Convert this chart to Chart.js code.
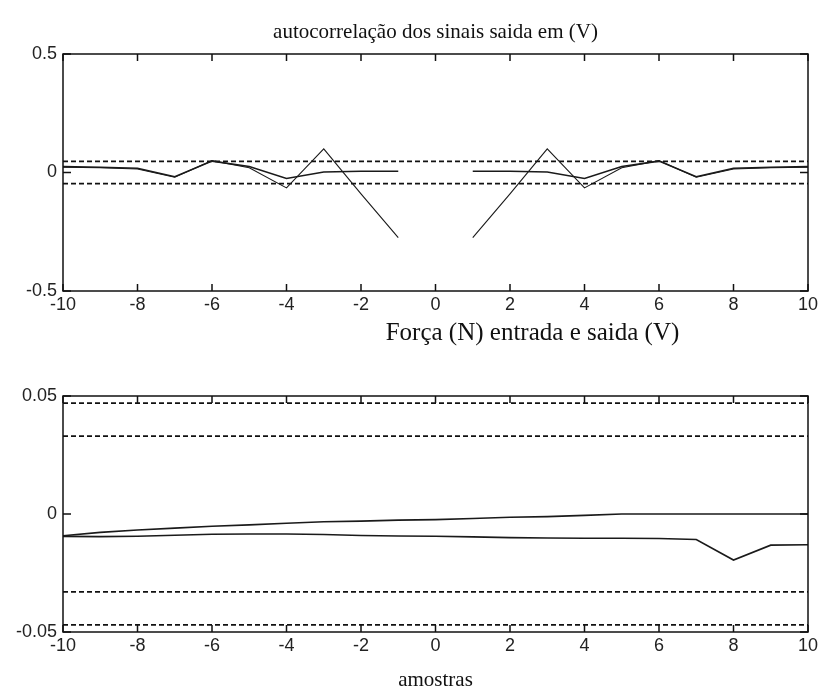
<!DOCTYPE html>
<html>
<head>
<meta charset="utf-8">
<script src="https://cdn.jsdelivr.net/npm/chart.js@4.4.0/dist/chart.umd.min.js"></script>
<style>
  body { margin: 0; background: #fff; }
  canvas { position: absolute; left: 0; }
  #top { top: 0; }
  #bottom { top: 315px; }
</style>
</head>
<body>
<canvas id="top" width="822" height="330"></canvas>
<canvas id="bottom" width="822" height="378"></canvas>
<script>
// lags (amostras)
const lags = [-10, -9, -8, -7, -6, -5, -4, -3, -2, -1, 0, 1, 2, 3, 4, 5, 6, 7, 8, 9, 10];

// autocorrelation of output signals, no value at lag 0
const autoSpike = [0.022, 0.02, 0.015, -0.02, 0.05, 0.02, -0.065, 0.10, -0.09, -0.275, null,
                   -0.275, -0.09, 0.10, -0.065, 0.02, 0.05, -0.02, 0.015, 0.02, 0.022];
const autoFlat = [0.025, 0.022, 0.018, -0.018, 0.048, 0.025, -0.025, 0.002, 0.005, 0.005, null,
                  0.005, 0.005, 0.002, -0.025, 0.025, 0.048, -0.018, 0.018, 0.022, 0.025];
const autoBounds = [0.047, -0.047];
const autoYTicks = [-0.5, 0, 0.5];

// cross correlation force (N) input / output (V)
const forceUpper = [-0.0092, -0.0078, -0.0068, -0.0060, -0.0052, -0.0046, -0.0039, -0.0033, -0.0030, -0.0026, -0.0024,
                    -0.0019, -0.0014, -0.0011, -0.0006, 0, 0, 0, 0, 0, 0];
const forceLower = [-0.0095, -0.0096, -0.0094, -0.0090, -0.0086, -0.0085, -0.0085, -0.0087, -0.0091, -0.0093, -0.0094,
                    -0.0097, -0.0100, -0.0102, -0.0103, -0.0103, -0.0104, -0.0108, -0.0195, -0.0132, -0.0130];
const forceBounds = [0.047, 0.033, -0.033, -0.047];
const forceYTicks = [-0.05, 0, 0.05];

const tickFont = { family: '"Liberation Sans", Arial, sans-serif', size: 18 };
const serif = '"Liberation Serif", "Times New Roman", serif';

const pts = vals => lags.map((x, i) => ({ x, y: vals[i] }));
const hline = v => ({ data: [{ x: -10, y: v }, { x: 10, y: v }], borderColor: '#111', borderWidth: 1.6, borderDash: [5, 3], pointRadius: 0 });

// box with inward ticks, like matlab axes
const frame = {
  id: 'frame',
  afterDatasetsDraw(chart) {
    const { ctx, chartArea: a, scales: { x, y } } = chart;
    ctx.save();
    ctx.strokeStyle = '#111';
    ctx.lineWidth = 1.5;
    ctx.strokeRect(a.left, a.top, a.right - a.left, a.bottom - a.top);
    ctx.beginPath();
    x.ticks.forEach(t => {
      const px = x.getPixelForValue(t.value);
      ctx.moveTo(px, a.bottom); ctx.lineTo(px, a.bottom - 7);
      ctx.moveTo(px, a.top); ctx.lineTo(px, a.top + 7);
    });
    y.ticks.forEach(t => {
      const py = y.getPixelForValue(t.value);
      ctx.moveTo(a.left, py); ctx.lineTo(a.left + 8, py);
      ctx.moveTo(a.right, py); ctx.lineTo(a.right - 8, py);
    });
    ctx.stroke();
    ctx.restore();
  }
};

// title placed relative to the plot box
const plotTitle = {
  id: 'plotTitle',
  afterDraw(chart, args, opts) {
    const { ctx, chartArea: a } = chart;
    ctx.save();
    ctx.font = opts.size + 'px ' + serif;
    ctx.fillStyle = '#111';
    ctx.textAlign = 'center';
    ctx.textBaseline = 'middle';
    ctx.fillText(opts.text, (a.left + a.right) / 2 + opts.dx, a.top - opts.dy);
    ctx.restore();
  }
};

function makeChart(id, datasets, yTicks, fmt, padTop, xHeight, title, xTitle) {
  return new Chart(document.getElementById(id), {
    type: 'line',
    data: { datasets },
    options: {
      responsive: false,
      animation: false,
      layout: { padding: { top: padTop, right: 14, left: 0, bottom: 0 } },
      plugins: { legend: { display: false }, tooltip: { enabled: false }, plotTitle: title },
      elements: { line: { tension: 0 } },
      scales: {
        x: {
          type: 'linear', min: -10, max: 10,
          ticks: { stepSize: 2, font: tickFont, color: '#222', padding: 3, maxRotation: 0 },
          grid: { display: false, drawTicks: false },
          border: { display: false },
          title: xTitle ? { display: true, text: xTitle, font: { family: serif, size: 21 }, color: '#111', padding: { top: 0, bottom: 0 } } : { display: false },
          afterFit: s => { s.height = xHeight; }
        },
        y: {
          min: yTicks[0], max: yTicks[yTicks.length - 1],
          afterBuildTicks: s => { s.ticks = yTicks.map(v => ({ value: v })); },
          ticks: { font: tickFont, color: '#222', padding: 6, callback: fmt },
          grid: { display: false, drawTicks: false },
          border: { display: false },
          afterFit: s => { s.width = 63; }
        }
      }
    },
    plugins: [frame, plotTitle]
  });
}

const line = (vals, w) => ({ data: pts(vals), borderColor: '#1a1a1a', borderWidth: w, pointRadius: 0, spanGaps: false });

makeChart('top', [
  line(autoFlat, 1.6),
  line(autoSpike, 1.1),
  ...autoBounds.map(hline)
], autoYTicks, v => String(v), 54, 39,
  { text: 'autocorrelação dos sinais saida em (V)', size: 21, dx: 0, dy: 22 }, null);

makeChart('bottom', [
  line(forceUpper, 1.6),
  line(forceLower, 1.6),
  ...forceBounds.map(hline)
], forceYTicks, v => String(v), 81, 61,
  { text: 'Força (N) entrada e saida (V)', size: 25, dx: 97, dy: 63 }, 'amostras');
</script>
</body>
</html>
